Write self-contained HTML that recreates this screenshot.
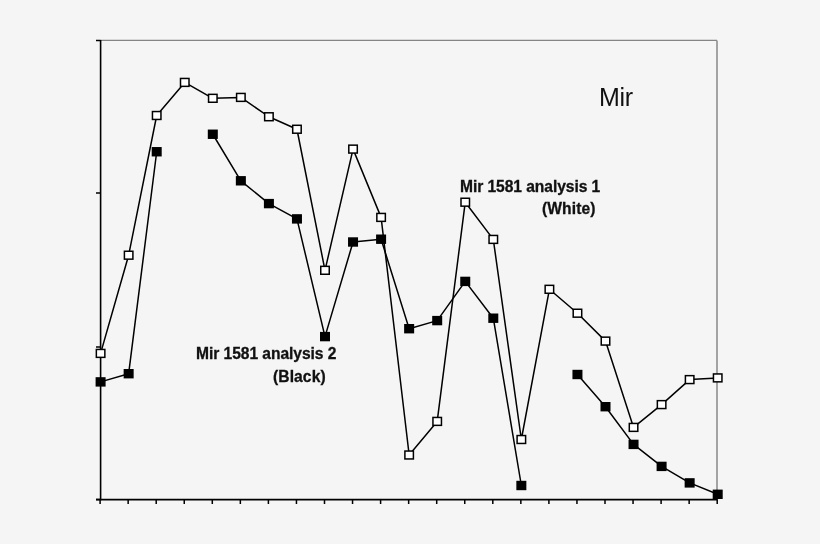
<!DOCTYPE html>
<html><head><meta charset="utf-8"><style>
html,body{margin:0;padding:0;background:#f5f5f5;}
body{width:820px;height:544px;overflow:hidden;position:relative;font-family:"Liberation Sans",sans-serif;}
svg{position:absolute;left:0;top:0;}
.t{position:absolute;color:#111;white-space:nowrap;line-height:1;will-change:transform;}
.b{font-weight:bold;font-size:15.6px;-webkit-text-stroke:0.3px #111;}
</style></head><body>
<svg width="820" height="544" viewBox="0 0 820 544">
<line x1="100.6" y1="40.4" x2="717" y2="40.4" stroke="#858585" stroke-width="1.2"/>
<line x1="717" y1="40.4" x2="717" y2="499.6" stroke="#8f8f8f" stroke-width="1.6"/>
<path d="M100.10 499.6 L100.10 504 M128.15 499.6 L128.15 504 M156.20 499.6 L156.20 504 M184.25 499.6 L184.25 504 M212.30 499.6 L212.30 504 M240.35 499.6 L240.35 504 M268.40 499.6 L268.40 504 M296.45 499.6 L296.45 504 M324.50 499.6 L324.50 504 M352.55 499.6 L352.55 504 M380.60 499.6 L380.60 504 M408.65 499.6 L408.65 504 M436.70 499.6 L436.70 504 M464.75 499.6 L464.75 504 M492.80 499.6 L492.80 504 M520.85 499.6 L520.85 504 M548.90 499.6 L548.90 504 M576.95 499.6 L576.95 504 M605.00 499.6 L605.00 504 M633.05 499.6 L633.05 504 M661.10 499.6 L661.10 504 M689.15 499.6 L689.15 504 M717.20 499.6 L717.20 504 M96 40.4 L100.6 40.4 M96 193.1 L100.6 193.1 M96 347.0 L100.6 347.0 M96 499.6 L100.6 499.6" stroke="#000" stroke-width="1.5" fill="none"/>
<line x1="100.6" y1="40" x2="100.6" y2="500.3" stroke="#000" stroke-width="1.6"/>
<line x1="96" y1="499.6" x2="717.7" y2="499.6" stroke="#000" stroke-width="1.6"/>
<path d="M100.60 353.40 L128.65 255.20 L156.70 115.50 L184.75 82.40 L212.80 98.30 L240.85 97.40 L268.90 116.75 L296.95 129.25 L325.00 270.30 L353.05 149.10 L381.10 217.40 L409.15 455.00 L437.20 421.40 L465.25 202.20 L493.30 239.40 L521.35 439.50 L549.40 289.30 L577.45 313.20 L605.50 341.10 L633.55 427.40 L661.60 404.60 L689.65 379.60 L717.70 377.90" stroke="#000" stroke-width="1.5" fill="none" stroke-linejoin="round"/>
<path d="M100.60 381.90 L128.65 373.70 L156.70 151.75 M212.80 134.25 L240.85 180.80 L268.90 203.60 L296.95 218.90 L325.00 336.60 L353.05 242.00 L381.10 239.20 L409.15 328.70 L437.20 320.60 L465.25 281.40 L493.30 318.20 L521.35 485.50 M577.45 374.50 L605.50 406.70 L633.55 444.40 L661.60 466.40 L689.65 482.90 L717.70 494.30" stroke="#000" stroke-width="1.5" fill="none" stroke-linejoin="round"/>
<rect x="96.35" y="349.45" width="8.50" height="7.90" fill="#fff" stroke="#000" stroke-width="1.5"/>
<rect x="124.40" y="251.25" width="8.50" height="7.90" fill="#fff" stroke="#000" stroke-width="1.5"/>
<rect x="152.45" y="111.55" width="8.50" height="7.90" fill="#fff" stroke="#000" stroke-width="1.5"/>
<rect x="180.50" y="78.45" width="8.50" height="7.90" fill="#fff" stroke="#000" stroke-width="1.5"/>
<rect x="208.55" y="94.35" width="8.50" height="7.90" fill="#fff" stroke="#000" stroke-width="1.5"/>
<rect x="236.60" y="93.45" width="8.50" height="7.90" fill="#fff" stroke="#000" stroke-width="1.5"/>
<rect x="264.65" y="112.80" width="8.50" height="7.90" fill="#fff" stroke="#000" stroke-width="1.5"/>
<rect x="292.70" y="125.30" width="8.50" height="7.90" fill="#fff" stroke="#000" stroke-width="1.5"/>
<rect x="320.75" y="266.35" width="8.50" height="7.90" fill="#fff" stroke="#000" stroke-width="1.5"/>
<rect x="348.80" y="145.15" width="8.50" height="7.90" fill="#fff" stroke="#000" stroke-width="1.5"/>
<rect x="376.85" y="213.45" width="8.50" height="7.90" fill="#fff" stroke="#000" stroke-width="1.5"/>
<rect x="404.90" y="451.05" width="8.50" height="7.90" fill="#fff" stroke="#000" stroke-width="1.5"/>
<rect x="432.95" y="417.45" width="8.50" height="7.90" fill="#fff" stroke="#000" stroke-width="1.5"/>
<rect x="461.00" y="198.25" width="8.50" height="7.90" fill="#fff" stroke="#000" stroke-width="1.5"/>
<rect x="489.05" y="235.45" width="8.50" height="7.90" fill="#fff" stroke="#000" stroke-width="1.5"/>
<rect x="517.10" y="435.55" width="8.50" height="7.90" fill="#fff" stroke="#000" stroke-width="1.5"/>
<rect x="545.15" y="285.35" width="8.50" height="7.90" fill="#fff" stroke="#000" stroke-width="1.5"/>
<rect x="573.20" y="309.25" width="8.50" height="7.90" fill="#fff" stroke="#000" stroke-width="1.5"/>
<rect x="601.25" y="337.15" width="8.50" height="7.90" fill="#fff" stroke="#000" stroke-width="1.5"/>
<rect x="629.30" y="423.45" width="8.50" height="7.90" fill="#fff" stroke="#000" stroke-width="1.5"/>
<rect x="657.35" y="400.65" width="8.50" height="7.90" fill="#fff" stroke="#000" stroke-width="1.5"/>
<rect x="685.40" y="375.65" width="8.50" height="7.90" fill="#fff" stroke="#000" stroke-width="1.5"/>
<rect x="713.45" y="373.95" width="8.50" height="7.90" fill="#fff" stroke="#000" stroke-width="1.5"/>
<rect x="96.35" y="377.95" width="8.50" height="7.90" fill="#000" stroke="#000" stroke-width="1.5"/>
<rect x="124.40" y="369.75" width="8.50" height="7.90" fill="#000" stroke="#000" stroke-width="1.5"/>
<rect x="152.45" y="147.80" width="8.50" height="7.90" fill="#000" stroke="#000" stroke-width="1.5"/>
<rect x="208.55" y="130.30" width="8.50" height="7.90" fill="#000" stroke="#000" stroke-width="1.5"/>
<rect x="236.60" y="176.85" width="8.50" height="7.90" fill="#000" stroke="#000" stroke-width="1.5"/>
<rect x="264.65" y="199.65" width="8.50" height="7.90" fill="#000" stroke="#000" stroke-width="1.5"/>
<rect x="292.70" y="214.95" width="8.50" height="7.90" fill="#000" stroke="#000" stroke-width="1.5"/>
<rect x="320.75" y="332.65" width="8.50" height="7.90" fill="#000" stroke="#000" stroke-width="1.5"/>
<rect x="348.80" y="238.05" width="8.50" height="7.90" fill="#000" stroke="#000" stroke-width="1.5"/>
<rect x="376.85" y="235.25" width="8.50" height="7.90" fill="#000" stroke="#000" stroke-width="1.5"/>
<rect x="404.90" y="324.75" width="8.50" height="7.90" fill="#000" stroke="#000" stroke-width="1.5"/>
<rect x="432.95" y="316.65" width="8.50" height="7.90" fill="#000" stroke="#000" stroke-width="1.5"/>
<rect x="461.00" y="277.45" width="8.50" height="7.90" fill="#000" stroke="#000" stroke-width="1.5"/>
<rect x="489.05" y="314.25" width="8.50" height="7.90" fill="#000" stroke="#000" stroke-width="1.5"/>
<rect x="517.10" y="481.55" width="8.50" height="7.90" fill="#000" stroke="#000" stroke-width="1.5"/>
<rect x="573.20" y="370.55" width="8.50" height="7.90" fill="#000" stroke="#000" stroke-width="1.5"/>
<rect x="601.25" y="402.75" width="8.50" height="7.90" fill="#000" stroke="#000" stroke-width="1.5"/>
<rect x="629.30" y="440.45" width="8.50" height="7.90" fill="#000" stroke="#000" stroke-width="1.5"/>
<rect x="657.35" y="462.45" width="8.50" height="7.90" fill="#000" stroke="#000" stroke-width="1.5"/>
<rect x="685.40" y="478.95" width="8.50" height="7.90" fill="#000" stroke="#000" stroke-width="1.5"/>
<rect x="713.45" y="490.35" width="8.50" height="7.90" fill="#000" stroke="#000" stroke-width="1.5"/>
</svg>
<div class="t" style="left:598.5px;top:85.4px;font-size:25px;letter-spacing:-0.3px;">Mir</div>
<div class="t b" style="left:460.3px;top:178.5px;letter-spacing:-0.06px">Mir 1581 analysis 1</div>
<div class="t b" style="left:542.3px;top:200.8px;letter-spacing:0.1px">(White)</div>
<div class="t b" style="left:195.8px;top:345.5px;letter-spacing:-0.05px">Mir 1581 analysis 2</div>
<div class="t b" style="left:273px;top:368.8px;letter-spacing:0.1px">(Black)</div>
</body></html>
